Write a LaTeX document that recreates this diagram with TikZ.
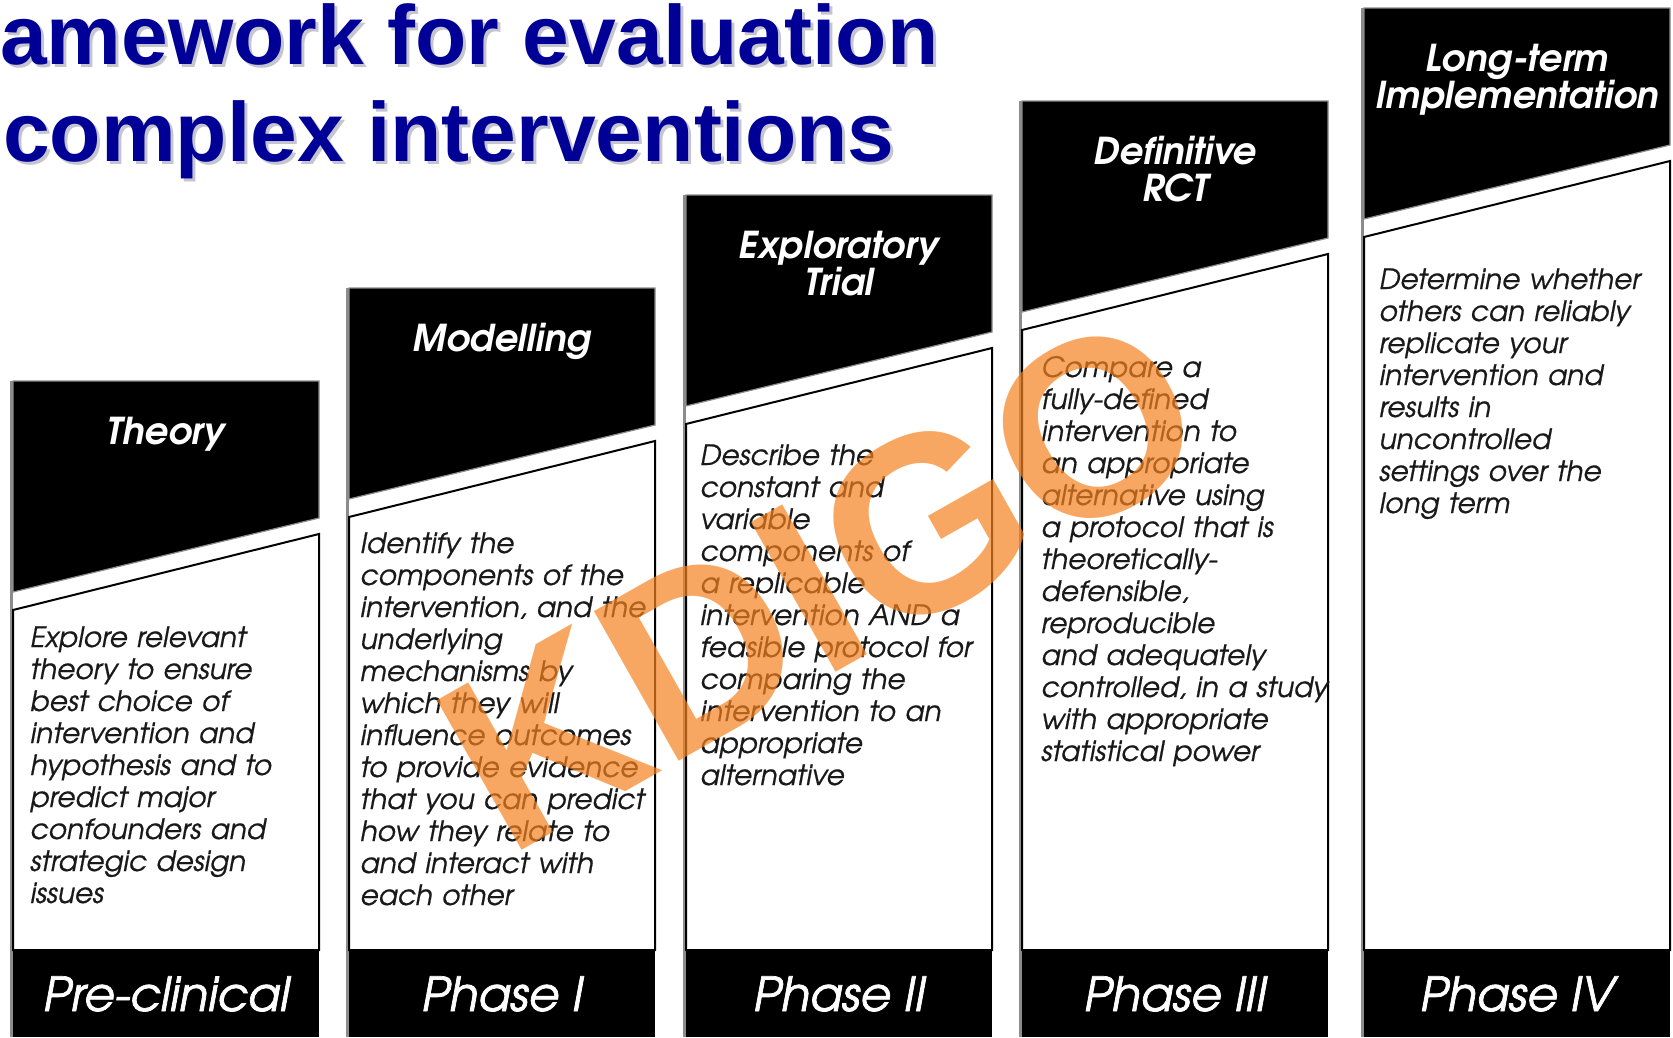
\documentclass[tikz,border=0pt]{standalone}
\usepackage{fontspec}
\setmainfont{TeX Gyre Adventor}
\newfontfamily\titlefont{Liberation Sans}
\usetikzlibrary{calc}

\definecolor{titleblue}{RGB}{0,0,150}
\definecolor{titleshade}{RGB}{150,150,170}
\definecolor{wmorange}{RGB}{245,130,32}
\definecolor{bodyink}{RGB}{25,25,25}

\tikzset{
  headbox/.style={fill=black, draw=black!45, line width=1.2},
  bodybox/.style={fill=white, draw=black, line width=2},
  footbox/.style={fill=black},
  edgeline/.style={draw=black!45, line width=3},
  titletext/.style={font=\titlefont\fontsize{84}{100}\selectfont\bfseries, anchor=base west, inner sep=0, text=titleblue},
  titleshadow/.style={titletext, text=titleshade, text opacity=0.55},
  headtext/.style={text=white, font=\fontsize{37}{37}\selectfont\bfseries\itshape, align=center, text width=300pt, anchor=base, inner sep=0},
  foottext/.style={text=white, font=\fontsize{47}{50}\selectfont\itshape\addfontfeature{FakeBold=1.5}, anchor=base, inner sep=0},
  bodytext/.style={text=bodyink, font=\fontsize{28}{32}\selectfont\itshape\addfontfeature{FakeBold=0.6}, align=left, text width=300pt, anchor=base west, inner sep=0},
  watermark/.style={font=\titlefont\fontsize{250}{250}\selectfont\bfseries, text=wmorange, text opacity=0.7, inner sep=0, rotate=29.5},
}

\begin{document}
\begin{tikzpicture}[x=1pt, y=-1pt]
  \useasboundingbox[fill=white] (0,0) rectangle (1673,1037);

  % heading, with a soft drop shadow
  \node[titleshadow] (t1s) at (3,67) {amework for evaluation};
  \node[titleshadow] (t2s) at (6,164) {complex interventions};
  \node[titletext] (t1) at (0,64) {amework for evaluation};
  \node[titletext] (t2) at (3,161) {complex interventions};

  % five staircase columns: black cap, white description panel, black phase band
  \foreach \i/\xl/\yt/\head/\foot in {
      1/13/381/{Theory}/{Pre-clinical},
      2/349/288/{Modelling}/{Phase I},
      3/686/195/{Exploratory\\Trial}/{Phase II},
      4/1022/101/{Definitive\\RCT}/{Phase III},
      5/1364/8/{Long-term\\Implementation}/{Phase IV}} {
    \pgfmathsetmacro\xr{\xl+306}
    \pgfmathsetmacro\xm{\xl+153}
    \draw[edgeline] (\xl-1.5,\yt) -- (\xl-1.5,1037);
    \filldraw[headbox] (\xl,\yt) -- (\xr,\yt) -- (\xr,\yt+137) -- (\xl,\yt+211) -- cycle;
    \draw[bodybox] (\xl,\yt+229) -- (\xr,\yt+153) -- (\xr,950) -- (\xl,950) -- cycle;
    \fill[footbox] (\xl,950) rectangle (\xr,1037);
    \node[headtext] (head\i) at (\xm,\yt+63) {\head};
    \node[foottext] (foot\i) at (\xm,1011) {\foot};
  }

  % descriptions
  \node[bodytext] (body1) at (30,647) {Explore relevant\\theory to ensure\\best choice of\\intervention and\\hypothesis and to\\predict major\\confounders and\\strategic design\\issues};
  \node[bodytext] (body2) at (360,553) {Identify the\\components of the\\intervention, and the\\underlying\\mechanisms by\\which they will\\influence outcomes\\to provide evidence\\that you can predict\\how they relate to\\and interact with\\each other};
  \node[bodytext] (body3) at (700,465) {Describe the\\constant and\\variable\\components of\\a replicable\\intervention AND a\\feasible protocol for\\comparing the\\intervention to an\\appropriate\\alternative};
  \node[bodytext] (body4) at (1041,377) {Compare a\\fully-defined\\intervention to\\an appropriate\\alternative using\\a protocol that is\\theoretically-\\defensible,\\reproducible\\and adequately\\controlled, in a study\\with appropriate\\statistical power};
  \node[bodytext] (body5) at (1379,289) {Determine whether\\others can reliably\\replicate your\\intervention and\\results in\\uncontrolled\\settings over the\\long term};

  % overlay mark
  \node[watermark] (mark) at (822,582) {KDIGO};
\end{tikzpicture}
\end{document}
